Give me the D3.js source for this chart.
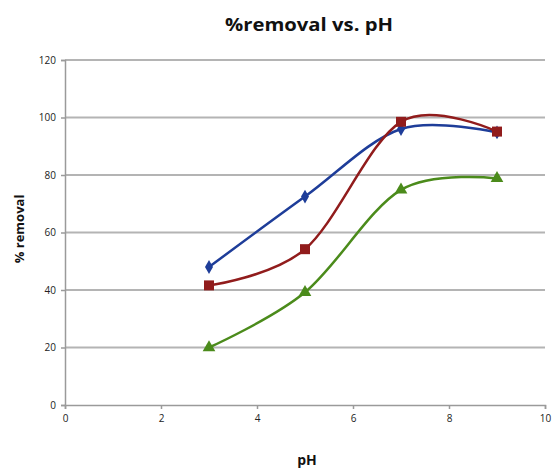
<!DOCTYPE html>
<html>
<head>
<meta charset="utf-8">
<script src="https://cdn.jsdelivr.net/npm/d3@7"></script>
<style>
  body { margin: 0; background: #fff; }
  text { font-family: "Open Sans", "DejaVu Sans", sans-serif; }
</style>
</head>
<body>
<svg id="chart"></svg>
<script>
const width = 552;
const height = 473;

const pH = [3, 5, 7, 9];
const blueVals = [48, 72.5, 96, 94.8];
const redVals = [41.6, 54.2, 98.5, 95.1];
const greenVals = [20, 39.2, 74.8, 78.8];
const xTicks = [0, 2, 4, 6, 8, 10];
const yTicks = [0, 20, 40, 60, 80, 100, 120];

const margin = { left: 65, right: 7, top: 60, bottom: 68 };

const svg = d3.select('#chart')
    .attr('width', width)
    .attr('height', height);

const x = d3.scaleLinear().domain([0, 10]).range([margin.left, width - margin.right]);
const y = d3.scaleLinear().domain([0, 120]).range([height - margin.bottom, margin.top]);

// grid lines
svg.append('g')
    .selectAll('line')
    .data(yTicks.filter(d => d > 0))
    .enter().append('line')
    .attr('x1', x(0)).attr('x2', x(10))
    .attr('y1', d => y(d)).attr('y2', d => y(d))
    .style('stroke', '#b4b4b4')
    .style('stroke-width', 2);

// axes
const yAxis = svg.append('g')
    .attr('transform', `translate(${x(0)},0)`)
    .call(d3.axisLeft(y).tickValues(yTicks).tickSize(4).tickPadding(5));
const xAxis = svg.append('g')
    .attr('transform', `translate(0,${y(0)})`)
    .call(d3.axisBottom(x).tickValues(xTicks).tickSize(4).tickPadding(6));

[yAxis, xAxis].forEach(ax => {
    ax.select('.domain').style('stroke', '#9a9a9a').style('stroke-width', 1.5);
    ax.selectAll('.tick line').style('stroke', '#9a9a9a').style('stroke-width', 1.5);
    ax.selectAll('.tick text')
        .style('font-size', '10px')
        .style('fill', '#222')
        .style('font-family', '"Open Sans", sans-serif');
});

const series = [
    { vals: blueVals, color: '#1e3d99', symbol: d3.symbolDiamond, size: 55 },
    { vals: redVals, color: '#911c1c', symbol: d3.symbolSquare, size: 100 },
    { vals: greenVals, color: '#4b8b1b', symbol: d3.symbolTriangle, size: 70 }
];

const line = d3.line()
    .x((d, i) => x(pH[i]))
    .y(d => y(d))
    .curve(d3.curveCardinal.tension(0));

series.forEach(s => {
    svg.append('path')
        .datum(s.vals)
        .attr('d', line)
        .style('fill', 'none')
        .style('stroke', s.color)
        .style('stroke-width', 2.5);
});

series.forEach(s => {
    svg.append('g')
        .selectAll('path')
        .data(s.vals)
        .enter().append('path')
        .attr('transform', (d, i) => `translate(${x(pH[i])},${y(d)})`)
        .attr('d', d3.symbol().type(s.symbol).size(s.size))
        .style('fill', s.color);
});

// titles
svg.append('text')
    .attr('x', 309).attr('y', 31)
    .attr('text-anchor', 'middle')
    .attr('textLength', 168)
    .attr('lengthAdjust', 'spacingAndGlyphs')
    .style('font-size', '18px')
    .style('font-weight', 'bold')
    .style('fill', '#111')
    .text('%removal vs. pH');

svg.append('text')
    .attr('transform', 'translate(24,229) rotate(-90)')
    .attr('text-anchor', 'middle')
    .style('font-size', '13px')
    .style('font-weight', 'bold')
    .style('fill', '#111')
    .text('% removal');

svg.append('text')
    .attr('x', 307).attr('y', 465)
    .attr('text-anchor', 'middle')
    .style('font-size', '14px')
    .style('font-weight', 'bold')
    .style('fill', '#111')
    .text('pH');
</script>
</body>
</html>
